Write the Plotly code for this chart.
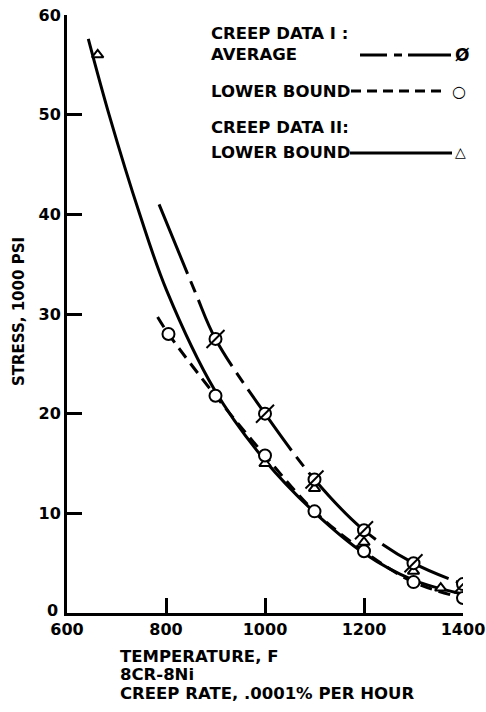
import plotly.graph_objects as go

# ---- Data ----
# Creep data I : average (Ø markers)
avg_temp = [900, 1000, 1100, 1200, 1300, 1400]
avg_stress = [27.5, 20.0, 13.4, 8.3, 5.0, 2.9]
avg_curve_temp = [786, 859, 900, 1000, 1100, 1200, 1300, 1400]
avg_curve_stress = [41.0, 32.2, 27.5, 20.0, 13.4, 8.3, 5.0, 2.9]

# Creep data I : lower bound (O markers)
low_temp = [805, 900, 1000, 1100, 1200, 1300, 1400]
low_stress = [28.0, 21.8, 15.8, 10.2, 6.2, 3.1, 1.5]
low_curve_temp = [783, 805, 900, 1000, 1100, 1200, 1300, 1400]
low_curve_stress = [29.7, 28.0, 21.8, 15.8, 10.2, 6.2, 3.1, 1.5]

# Creep data II : lower bound (triangle markers)
ii_temp = [662, 1000, 1100, 1200, 1300, 1355]
ii_stress = [56.0, 15.0, 12.5, 7.1, 4.2, 2.5]
ii_curve_temp = [643, 685, 747, 801, 898, 1000, 1100, 1200, 1300, 1400]
ii_curve_stress = [57.6, 50.0, 40.0, 32.4, 22.4, 15.3, 10.1, 6.0, 3.3, 1.9]

x_ticks = [600, 800, 1000, 1200, 1400]
y_ticks = [0, 10, 20, 30, 40, 50, 60]
y_ticklabels = ["", "10", "20", "30", "40", "50", "60"]

W, H = 486, 712
ML, MR, MT, MB = 67, 23, 15, 99
PW, PH = W - ML - MR, H - MT - MB
FONT = "DejaVu Sans"


def px(x, y):
    return (x - ML) / PW, (H - MB - y) / PH


fig = go.Figure()

# curves
fig.add_trace(go.Scatter(x=ii_curve_temp, y=ii_curve_stress, mode="lines",
                         line=dict(color="black", width=3, shape="spline", smoothing=1.0),
                         showlegend=False, hoverinfo="skip"))
fig.add_trace(go.Scatter(x=low_curve_temp, y=low_curve_stress, mode="lines",
                         line=dict(color="black", width=3, shape="spline", smoothing=1.0,
                                   dash="12px,7px"),
                         showlegend=False, hoverinfo="skip"))
fig.add_trace(go.Scatter(x=avg_curve_temp, y=avg_curve_stress, mode="lines",
                         line=dict(color="black", width=3, shape="spline", smoothing=1.0,
                                   dash="75px,8px,12px,8px"),
                         showlegend=False, hoverinfo="skip"))

# markers
fig.add_trace(go.Scatter(x=ii_temp, y=ii_stress, mode="markers",
                         marker=dict(symbol="triangle-up", size=10, color="white",
                                     line=dict(color="black", width=2)),
                         showlegend=False))
fig.add_trace(go.Scatter(x=low_temp, y=low_stress, mode="markers",
                         marker=dict(symbol="circle", size=12, color="white",
                                     line=dict(color="black", width=2)),
                         showlegend=False))
fig.add_trace(go.Scatter(x=avg_temp, y=avg_stress, mode="markers",
                         marker=dict(symbol="circle", size=12, color="white",
                                     line=dict(color="black", width=2)),
                         showlegend=False))
fig.add_trace(go.Scatter(x=avg_temp, y=avg_stress, mode="markers",
                         marker=dict(symbol="line-ne", size=18, color="black",
                                     line=dict(color="black", width=2)),
                         showlegend=False))

annotations = []


def text(x, y, s, size=16.5, xanchor="left", angle=0):
    ax, ay = px(x, y)
    annotations.append(dict(x=ax, y=ay, xref="paper", yref="paper", text=s,
                            showarrow=False, xanchor=xanchor, yanchor="middle",
                            textangle=angle, borderpad=0,
                            font=dict(family=FONT, size=size, color="black", weight="bold")))


# legend text
text(210, 34, "CREEP DATA I :")
text(210, 55, "AVERAGE")
text(210, 91, "LOWER BOUND")
text(210, 128, "CREEP DATA II:")
text(210, 153, "LOWER BOUND")
text(462, 55, "Ø", size=17, xanchor="center")
text(459, 91, "○", size=16, xanchor="center")
text(460, 152, "△", size=14, xanchor="center")

# bottom text
text(119, 656, "TEMPERATURE, F")
text(119, 674.5, "8CR-8Ni")
text(119, 693, "CREEP RATE, .0001% PER HOUR")

# y title
text(19, 312, "STRESS, 1000 PSI", size=15, xanchor="center", angle=-90)

# zero label of the stress axis
text(52, 610, "0", size=16, xanchor="center")

shapes = []


def seg(x0, x1, y, dash="solid"):
    a0, b0 = px(x0, y)
    a1, b1 = px(x1, y)
    shapes.append(dict(type="line", xref="paper", yref="paper", x0=a0, y0=b0, x1=a1, y1=b1,
                       line=dict(color="black", width=3, dash=dash)))


seg(360, 387, 55)
seg(394, 402, 55)
seg(408, 451, 55)
seg(351, 447, 91, dash="10px,6px")
seg(350, 452, 153)

fig.update_layout(
    width=W, height=H, autosize=False,
    margin=dict(l=ML, r=MR, t=MT, b=MB, pad=0, autoexpand=False),
    paper_bgcolor="white", plot_bgcolor="white",
    annotations=annotations, shapes=shapes,
    showlegend=False,
)
fig.update_xaxes(range=[600, 1400], tickvals=x_ticks, ticktext=[str(v) for v in x_ticks],
                 showline=True, linewidth=3, linecolor="black", ticks="inside",
                 ticklen=15, tickwidth=3, tickcolor="black", showgrid=False, zeroline=False,
                 automargin=False,
                 tickfont=dict(family=FONT, size=16, color="black", weight="bold"))
fig.update_yaxes(range=[0, 60], tickvals=y_ticks, ticktext=y_ticklabels,
                 showline=True, linewidth=3, linecolor="black", ticks="inside",
                 ticklen=15, tickwidth=3, tickcolor="black", showgrid=False, zeroline=False,
                 automargin=False,
                 tickfont=dict(family=FONT, size=16, color="black", weight="bold"))

fig.write_html("out.html")
